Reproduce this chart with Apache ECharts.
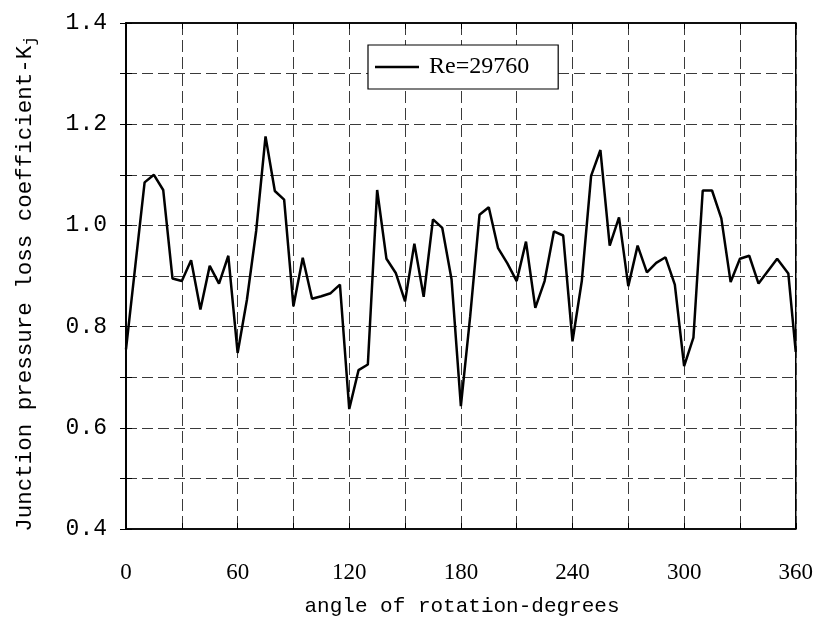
<!DOCTYPE html>
<html>
<head>
<meta charset="utf-8">
<script src="https://cdn.jsdelivr.net/npm/echarts@6/dist/echarts.min.js"></script>
<style>html,body{margin:0;padding:0;background:#fff;}#c{width:816px;height:635px;}</style>
</head>
<body>
<div id="c"></div>
<script>
// ---- data ----
var angles = [0,5,10,15,20,25,30,35,40,45,50,55,
  60,65,70,75,80,85,90,95,100,105,110,115,
  120,125,130,135,140,145,150,155,160,165,170,175,
  180,185,190,195,200,205,210,215,220,225,230,235,
  240,245,250,255,260,265,270,275,280,285,290,295,
  300,305,310,315,320,325,330,335,340,350,356,360];
var kj = [0.755,0.92,1.085,1.10,1.07,0.895,0.89,0.931,0.834,0.92,0.885,0.94,
  0.748,0.853,0.99,1.176,1.068,1.051,0.84,0.936,0.855,0.86,0.866,0.883,
  0.637,0.714,0.725,1.07,0.934,0.906,0.85,0.964,0.859,1.012,0.995,0.893,
  0.643,0.82,1.021,1.036,0.955,0.925,0.89,0.968,0.837,0.89,0.988,0.98,
  0.771,0.89,1.098,1.149,0.96,1.016,0.88,0.96,0.907,0.926,0.937,0.883,
  0.722,0.778,1.069,1.069,1.014,0.888,0.934,0.94,0.885,0.934,0.905,0.75];
var seriesName = 'Re=29760';
var xTickLabels = ['0','60','120','180','240','300','360'];
var yTickLabels = ['0.4','0.6','0.8','1.0','1.2','1.4'];
var xTitle = 'angle of rotation-degrees';
var yTitle = 'Junction pressure loss coefficient-K';
var yTitleSub = 'j';

var points = angles.map(function(a, i){ return [a, kj[i]]; });

var chart = echarts.init(document.getElementById('c'), null, {renderer:'canvas'});
var gridColor = '#3a3a3a';
var dashX = [12,5], dashY = [11,5];
function xFmt(v){ var k = Math.round(v/60); return (Math.abs(v - k*60) < 1e-6) ? xTickLabels[k] : ''; }
function yFmt(v){ var k = Math.round((v-0.4)/0.2); return (Math.abs(v - 0.4 - k*0.2) < 1e-6) ? yTickLabels[k] : ''; }

chart.setOption({
  animation: false,
  backgroundColor: '#fff',
  textStyle: {fontFamily: 'Liberation Serif', color:'#000'},
  grid: {left:126, right:17, top:23, bottom:106, show:true, borderColor:'#000', borderWidth:1.5, backgroundColor:'transparent'},
  legend: {
    data:[{name:seriesName, icon:'rect'}], left:368, top:45,
    backgroundColor:'#fff', borderColor:'#000', borderWidth:1.2, borderRadius:0,
    padding:[9,29,9,7], itemWidth:44, itemHeight:2.5,
    itemStyle:{color:'#000'},
    textStyle:{fontFamily:'Liberation Serif', fontSize:24, color:'#000', padding:[0,0,0,5], lineHeight:26}
  },
  xAxis: [{
    type:'value', min:0, max:360, interval:30, position:'bottom',
    axisLine:{show:true, lineStyle:{color:'#000', width:1.5}},
    axisTick:{show:true, inside:true, length:6, lineStyle:{color:'#000', width:1}},
    axisLabel:{formatter:xFmt, margin:32, fontFamily:'Liberation Serif', fontSize:23, color:'#000'},
    splitLine:{show:true, lineStyle:{color:gridColor, width:1, type:dashX}}
  },{
    type:'value', min:0, max:360, interval:30, position:'top',
    axisLine:{show:true, lineStyle:{color:'#000', width:1.5}},
    axisTick:{show:true, inside:true, length:6, lineStyle:{color:'#000', width:1}},
    axisLabel:{show:false}, splitLine:{show:false}
  }],
  yAxis: [{
    type:'value', min:0.4, max:1.4, interval:0.1, position:'left',
    axisLine:{show:true, lineStyle:{color:'#000', width:1.5}},
    axisTick:{show:true, inside:true, length:6, lineStyle:{color:'#000', width:1}},
    axisLabel:{formatter:yFmt, margin:19, fontFamily:'Liberation Mono', fontSize:23, color:'#000'},
    splitLine:{show:true, lineStyle:{color:gridColor, width:1, type:dashY}}
  },{
    type:'value', min:0.4, max:1.4, interval:0.1, position:'right',
    axisLine:{show:true, lineStyle:{color:'#000', width:1.5}},
    axisTick:{show:true, inside:true, length:6, lineStyle:{color:'#000', width:1}},
    axisLabel:{show:false}, splitLine:{show:false}
  }],
  series: [{
    name: seriesName, type:'line', data: points, xAxisIndex:0, yAxisIndex:0,
    symbol:'none', showSymbol:false,
    lineStyle:{color:'#000', width:2.5}, itemStyle:{color:'#000'}
  }],
  graphic: [{
    type:'text', x:462, y:606,
    style:{text:xTitle, fontFamily:'Liberation Mono', fontSize:21, fill:'#000', align:'center', verticalAlign:'middle'}
  },{
    type:'text', x:25, y:284, rotation:Math.PI/2,
    style:{
      text: yTitle + '{sub|' + yTitleSub + '}',
      fontFamily:'Liberation Mono', fontSize:22.5, fill:'#000', align:'center', verticalAlign:'middle',
      rich:{sub:{fontFamily:'Liberation Mono', fontSize:16, fill:'#000', padding:[12,0,0,0]}}
    }
  }]
});
</script>
</body>
</html>
